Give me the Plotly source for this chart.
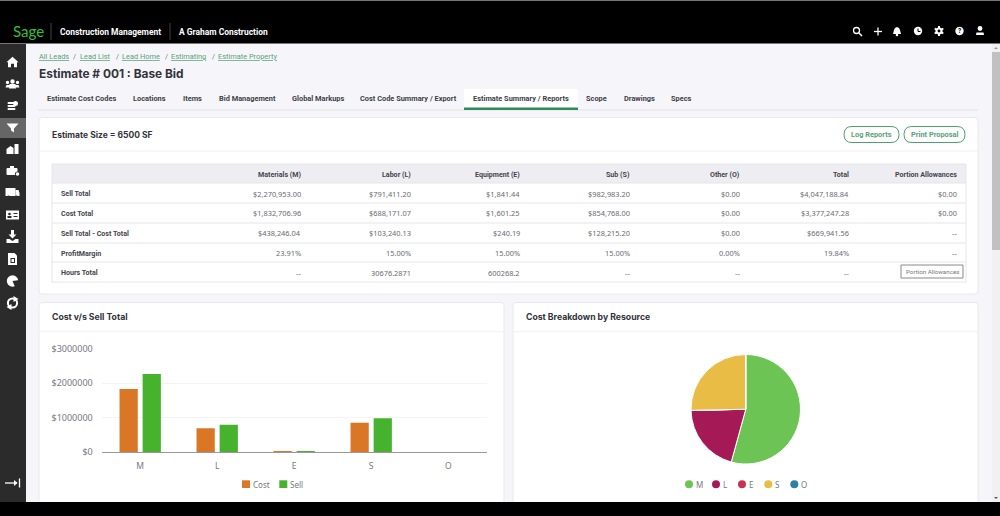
# coding: utf-8
import plotly.graph_objects as go

# Chart data
resources = ['M', 'L', 'E', 'S', 'O']
cost_total = [1832706.96, 688171.07, 1601.25, 854768.00, 0]
sell_total = [2270953.00, 791411.20, 1841.44, 982983.20, 0]
bar_series = ['Cost', 'Sell']
bar_ticks = [0, 1000000, 2000000, 3000000]
pie_colors = ['#6CC455', '#A51A56', '#C9324F', '#E9BC46', '#2E7EA8']

# Summary table
table_columns = ['Materials (M)', 'Labor (L)', 'Equipment (E)', 'Sub (S)', 'Other (O)', 'Total', 'Portion Allowances']
row_labels = ['Sell Total', 'Cost Total', 'Sell Total - Cost Total', 'ProfitMargin', 'Hours Total']
sell_row = ['$2,270,953.00', '$791,411.20', '$1,841.44', '$982,983.20', '$0.00', '$4,047,188.84', '$0.00']
cost_row = ['$1,832,706.96', '$688,171.07', '$1,601.25', '$854,768.00', '$0.00', '$3,377,247.28', '$0.00']
diff_row = ['$438,246.04', '$103,240.13', '$240.19', '$128,215.20', '$0.00', '$669,941.56', '--']
margin_row = ['23.91%', '15.00%', '15.00%', '15.00%', '0.00%', '19.84%', '--']
hours_row = ['--', '30676.2871', '600268.2', '--', '--', '--', '']

# Page text
breadcrumbs = ['All Leads', 'Lead List', 'Lead Home', 'Estimating', 'Estimate Property']
tabs = ['Estimate Cost Codes', 'Locations', 'Items', 'Bid Management', 'Global Markups',
        'Cost Code Summary / Export', 'Estimate Summary / Reports', 'Scope', 'Drawings', 'Specs']

GREEN = '#5A9F78'
TEXT = '#33333B'
GREY = '#77777F'
UI = 'Roboto'
TITLE = 'Inter'
NUM = 'Noto Sans'

shapes = []
annotations = []


def rect(x0, y0, x1, y1, fill, line=None, width=1):
    shapes.append(dict(type='rect', xref='x', yref='y', x0=x0, y0=y0, x1=x1, y1=y1, fillcolor=fill,
                       line=dict(color=line or 'rgba(0,0,0,0)', width=width if line else 0), layer='below'))


def rrect(x0, y0, x1, y1, r, fill, line=None, width=1):
    path = (f'M{x0+r},{y0} L{x1-r},{y0} Q{x1},{y0} {x1},{y0+r} L{x1},{y1-r} Q{x1},{y1} {x1-r},{y1} '
            f'L{x0+r},{y1} Q{x0},{y1} {x0},{y1-r} L{x0},{y0+r} Q{x0},{y0} {x0+r},{y0} Z')
    shapes.append(dict(type='path', xref='x', yref='y', path=path, fillcolor=fill,
                       line=dict(color=line or 'rgba(0,0,0,0)', width=width if line else 0), layer='below'))


def seg(x0, y0, x1, y1, color, width=1):
    shapes.append(dict(type='line', xref='x', yref='y', x0=x0, y0=y0, x1=x1, y1=y1,
                       line=dict(color=color, width=width), layer='below'))


def hline(x0, x1, y, color, width=1):
    seg(x0, y, x1, y, color, width)


def vline(x, y0, y1, color, width=1):
    seg(x, y0, x, y1, color, width)


def circ(cx, cy, r, fill='white', line=None, width=1):
    shapes.append(dict(type='circle', xref='x', yref='y', x0=cx-r, x1=cx+r, y0=cy-r, y1=cy+r, fillcolor=fill,
                       line=dict(color=line or 'rgba(0,0,0,0)', width=width if line else 0), layer='below'))


def poly(cx, cy, pts, fill='white'):
    path = 'M' + ' L'.join(f'{cx+dx},{cy+dy}' for dx, dy in pts) + ' Z'
    shapes.append(dict(type='path', xref='x', yref='y', path=path, fillcolor=fill,
                       line=dict(color='rgba(0,0,0,0)', width=0), layer='below'))


def txt(x, y, s, size=8, color=TEXT, anchor='left', font=UI):
    # annotations sit about 1px inside their anchor
    x = x - 1 if anchor == 'left' else x + 1 if anchor == 'right' else x
    annotations.append(dict(xref='x', yref='y', x=x, y=y, text=s, showarrow=False, xanchor=anchor, yanchor='middle',
                            borderpad=0, font=dict(family=font, size=size, color=color)))


# Page frame
rect(0, 0, 1000, 516, '#F6F6FA')
rect(0, 0, 1000, 43, '#000000')
rect(0, 0, 1000, 1, '#777777')
rect(0, 43, 1000, 44, '#777777')
rect(0, 44, 26, 502, '#2B2B2B')
rect(0, 118, 26, 138, '#666666')
rect(992, 44, 1000, 502, '#F1F1F1')
rect(992, 52, 1000, 250, '#C1C1C1')
poly(996, 48, [(-2, 1), (2, 1), (0, -1)], '#999999')
poly(996, 498, [(-2, -1), (2, -1), (0, 1)], '#555555')

# Top navigation
txt(12.5, 31, 'Sage', 15, '#35C03A', font='Lato')
vline(51, 23, 40, '#444444')
txt(60, 31.5, '<b>Construction Management</b>', 8.45, '#FFFFFF')
vline(170, 23, 40, '#444444')
txt(179, 31.5, '<b>A Graham Construction</b>', 8.45, '#FFFFFF')

# top right icons
circ(856.5, 30.5, 3, 'rgba(0,0,0,0)', 'white', 1.3)
seg(859, 33, 862, 36, 'white', 1.5)
hline(874, 882, 31.5, 'white', 1.3)
vline(878, 27.5, 35.5, 'white', 1.3)
poly(897, 31, [(-4, 3), (-3, -1), (-2, -3), (0, -4), (2, -3), (3, -1), (4, 3)])
circ(897, 35, 1.3)
circ(918, 31, 4.2)
vline(918, 28.5, 31.5, '#000000', 1)
hline(918, 920.5, 31.5, '#000000', 1)
circ(939, 31, 3.6)
seg(939, 26, 939, 36, 'white', 2)
seg(934.7, 28.5, 943.3, 33.5, 'white', 2)
seg(934.7, 33.5, 943.3, 28.5, 'white', 2)
circ(939, 31, 1.4, '#000000')
circ(959.5, 31, 4.2)
txt(959.5, 31, '<b>?</b>', 6.5, '#000000', 'center')
circ(980, 28.5, 2.4)
poly(980, 31, [(-4, 4), (-3.5, 1.5), (3.5, 1.5), (4, 4)])

# Sidebar icons
sx = 12.5
poly(sx, 62.3, [(-6, 0), (0, -5.5), (6, 0), (4.5, 0), (4.5, 5), (1.5, 5), (1.5, 1.5), (-1.5, 1.5), (-1.5, 5), (-4.5, 5), (-4.5, 0)])
circ(sx, 81.5, 2.2)
circ(sx-5, 82.5, 1.7)
circ(sx+5, 82.5, 1.7)
poly(sx, 84, [(-7, 3.5), (-6, 1), (6, 1), (7, 3.5)])
poly(sx, 84, [(-3.5, 4.5), (-3, 0), (3, 0), (3.5, 4.5)])
for dy in [-3, 0, 3]:
    rrect(sx-5, 106+dy-1, sx+3, 106+dy+1, 1, 'white')
circ(sx+3, 103.5, 2.5)
poly(sx, 127.5, [(-6, -4), (6, -4), (1.5, 1), (1.5, 5), (-1.5, 3), (-1.5, 1)])
poly(sx, 149, [(-6, 5), (-6, 0), (-2, -3), (1, -1), (1, 5)])
rect(sx+2, 144, sx+6, 154, 'white')
rrect(sx-6, 168, sx+5, 175, 1, 'white')
rect(sx-2.5, 166, sx+1.5, 168, 'white')
circ(sx+5, 174, 2.6, '#2B2B2B')
circ(sx+5, 174, 1.8)
rect(sx-7, 188, sx+3, 196, 'white')
poly(sx, 193, [(3, -3), (6, -3), (7, 0), (7, 3), (3, 3)])
circ(sx-4, 197, 1.4, '#2B2B2B')
circ(sx+4, 197, 1.4, '#2B2B2B')
rect(sx-6.5, 210.5, sx+6.5, 219.5, 'white')
circ(sx-3, 214, 1.3, '#2B2B2B')
rect(sx-5, 216, sx-1, 218, '#2B2B2B')
rect(sx+1, 213, sx+5, 214, '#2B2B2B')
rect(sx+1, 216, sx+5, 217, '#2B2B2B')
poly(sx, 236, [(-1.5, -6), (1.5, -6), (1.5, -1.5), (4, -1.5), (0, 2.5), (-4, -1.5), (-1.5, -1.5)])
poly(sx, 237, [(-6, 2), (-3, 2), (0, 4), (3, 2), (6, 2), (6, 6), (-6, 6)])
poly(sx, 259, [(-4.5, -6), (2, -6), (4.5, -3.5), (4.5, 6), (-4.5, 6)])
rect(sx-2, 258, sx+2.5, 263, '#2B2B2B')
rect(sx-1, 259, sx+1.5, 262, 'white')
circ(sx, 281, 5.7)
poly(sx, 281, [(0, 0), (7, -1), (7, 1.5), (3, 7)], '#2B2B2B')
circ(sx, 303, 4.6, 'rgba(0,0,0,0)', 'white', 2)
poly(sx, 303, [(1, -7), (6, -4), (1, -1)])
poly(sx, 303, [(-1, 7), (-6, 4), (-1, 1)])
hline(5, 17, 483, 'white', 1.3)
poly(0, 483, [(14, -3), (17.5, 0), (14, 3)])
vline(19.5, 478.5, 487.5, 'white', 1.3)

# Breadcrumbs and page title
crumb_x = [38.5, 80, 122, 170.5, 218]
sep_x = [73, 116, 165, 212]
for x, label in zip(crumb_x, breadcrumbs):
    txt(x, 56, f'<u>{label}</u>', 7.4, GREEN)
for x in sep_x:
    txt(x, 56, '/', 7.4, '#777777')
txt(38.5, 73, '<b>Estimate # 001 : Base Bid</b>', 11.9, TEXT, font=TITLE)

# Tabs
hline(38, 978, 110, '#E1E1E6', 1)
rect(464, 89, 578, 108, '#FFFFFF')
rect(464, 107.5, 578, 110, '#2E8B57')
tab_x = [47, 133, 182.5, 218.5, 291.5, 360, 473, 586, 624, 671]
for x, label in zip(tab_x, tabs):
    txt(x, 98.7, f'<b>{label}</b>', 7.4, '#3E3E46')

# Summary card
rrect(39, 117.5, 978, 294, 3, '#FFFFFF', '#E8E8EE')
hline(39, 978, 151, '#F0F0F3')
txt(52, 134.5, '<b>Estimate Size = 6500 SF</b>', 8.5, TEXT, font=TITLE)
rrect(844, 126.5, 899, 142.5, 8, '#FFFFFF', '#4E9E6F')
txt(871.5, 134.5, '<b>Log Reports</b>', 7.4, GREEN, 'center')
rrect(904, 126.5, 965, 142.5, 8, '#FFFFFF', '#4E9E6F')
txt(934.5, 134.5, '<b>Print Proposal</b>', 7.4, GREEN, 'center')

# Summary table
rect(52, 164, 966, 183, '#EEEEF2')
rect(52, 164, 966, 282, 'rgba(0,0,0,0)', '#E6E6EA')
for y in [183, 203, 223, 243, 262]:
    hline(52, 966, y, '#E6E6EA')
col_right = [301, 411, 520, 630, 739.7, 849, 957]
row_y = [193.5, 213, 233, 253, 272.5]
rows = [sell_row, cost_row, diff_row, margin_row, hours_row]
for x, label in zip(col_right, table_columns):
    txt(x, 174, f'<b>{label}</b>', 7.1, '#44444C', 'right')
for y, label, values in zip(row_y, row_labels, rows):
    txt(60.5, y, f'<b>{label}</b>', 7.1, '#44444C')
    for x, value in zip(col_right, values):
        txt(x, y, value, 7.4, '#6A6A72', 'right', NUM)
rect(901, 265, 963, 278, '#FFFFFF', '#888888')
txt(932, 271.5, 'Portion Allowances', 6.2, '#777777', 'center')

# Chart cards
rrect(39, 302.5, 504, 520, 3, '#FFFFFF', '#E8E8EE')
rrect(513, 302.5, 978, 520, 3, '#FFFFFF', '#E8E8EE')
hline(39, 504, 331.7, '#F0F0F3')
hline(513, 978, 331.7, '#F0F0F3')
txt(51.7, 317, '<b>Cost v/s Sell Total</b>', 8.7, TEXT, font=TITLE)
txt(525.7, 317, '<b>Cost Breakdown by Resource</b>', 8.7, TEXT, font=TITLE)

# Legends
bar_colors = ['#D97726', '#46B22E']
for x, tx, label, color in zip([242, 279.3], [252.7, 290], bar_series, bar_colors):
    rect(x, 480.3, x+8, 488, color)
    txt(tx, 484.5, label, 8, GREY, font=NUM)
for x, label, color in zip([689, 716, 742, 768.3, 794.3], resources, pie_colors):
    circ(x, 484.3, 4, color)
    txt(x+7, 484.8, label, 8, GREY, font=NUM)

# Black strip under the page
shapes.append(dict(type='rect', xref='paper', yref='paper', x0=0, x1=1, y0=0, y1=14/516,
                   fillcolor='#000000', line=dict(width=0), layer='above'))

fig = go.Figure()

# Invisible trace that keeps the pixel canvas axes alive
fig.add_trace(go.Scatter(x=[0], y=[0], mode='markers', marker=dict(opacity=0), hoverinfo='skip', showlegend=False))

fig.add_trace(go.Bar(x=resources, y=cost_total, name=bar_series[0], marker=dict(color=bar_colors[0], line=dict(width=0)),
                     xaxis='x2', yaxis='y2', showlegend=False))
fig.add_trace(go.Bar(x=resources, y=sell_total, name=bar_series[1], marker=dict(color=bar_colors[1], line=dict(width=0)),
                     xaxis='x2', yaxis='y2', showlegend=False))
fig.add_trace(go.Pie(labels=resources, values=cost_total, sort=False, direction='clockwise', rotation=0,
                     textinfo='none', showlegend=False, marker=dict(colors=pie_colors, line=dict(color='white', width=1)),
                     domain=dict(x=[691/1000, 800.5/1000], y=[1-464/516, 1-354.5/516])))

fig.update_layout(
    template='none',
    width=1000,
    height=516,
    margin=dict(l=0, r=0, t=0, b=0, pad=0, autoexpand=False),
    paper_bgcolor='#F6F6FA',
    plot_bgcolor='rgba(0,0,0,0)',
    barmode='group',
    bargap=0.40,
    bargroupgap=0.21,
    shapes=shapes,
    annotations=annotations,
    xaxis=dict(range=[0, 1000], domain=[0, 1], visible=False, fixedrange=True, automargin=False),
    yaxis=dict(range=[516, 0], domain=[0, 1], visible=False, fixedrange=True, automargin=False),
    xaxis2=dict(domain=[101.7/1000, 486.7/1000], anchor='y2', showgrid=False, showline=True, linecolor='#999999',
                linewidth=1, ticks='', ticklabelstandoff=6, tickfont=dict(family=NUM, size=8.5, color=GREY),
                fixedrange=True, automargin=False),
    yaxis2=dict(domain=[1-452/516, 1-349/516], anchor='x2', range=[0, 3000000], tickmode='array', tickvals=bar_ticks,
                ticktext=[f'${v}' for v in bar_ticks], showgrid=True, gridcolor='#F4F4F6', gridwidth=1, zeroline=False,
                showline=False, ticks='', ticklabelstandoff=8, tickfont=dict(family=NUM, size=9, color=GREY),
                fixedrange=True, automargin=False),
)

fig.write_html('out.html', config=dict(displayModeBar=False),
               post_script="document.body.style.margin='0';document.body.style.overflow='hidden';")
